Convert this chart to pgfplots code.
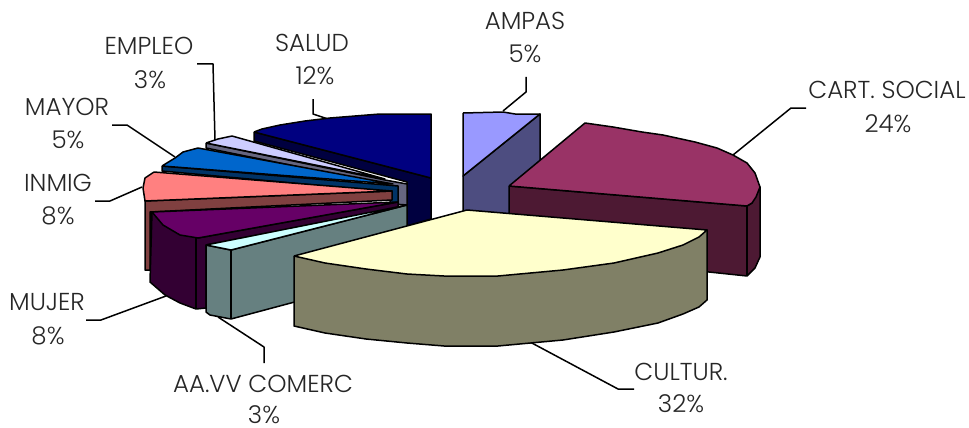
\documentclass[border=0pt]{standalone}
\usepackage{fontspec}
\setmainfont{Poppins}[UprightFont=* Light]
\usepackage{pgfplots}
\pgfplotsset{compat=1.18}
\definecolor{salud}{HTML}{000080}\definecolor{saludd}{HTML}{000040}
\definecolor{empleo}{HTML}{CCCCFF}\definecolor{empleod}{HTML}{666680}
\definecolor{mayor}{HTML}{0066CC}\definecolor{mayord}{HTML}{003366}
\definecolor{inmig}{HTML}{FF8080}\definecolor{inmigd}{HTML}{804040}
\definecolor{mujer}{HTML}{660066}\definecolor{mujerd}{HTML}{330033}
\definecolor{aavv}{HTML}{CCFFFF}\definecolor{aavvd}{HTML}{668080}
\definecolor{ampas}{HTML}{9999FF}\definecolor{ampasd}{HTML}{4D4D80}
\definecolor{cart}{HTML}{993366}\definecolor{cartd}{HTML}{4D1933}
\definecolor{cultur}{HTML}{FFFFCC}\definecolor{culturd}{HTML}{808066}
\begin{document}
\begin{tikzpicture}
\begin{axis}[
    name=ax,
    scale only axis, width=969pt, height=428pt,
    xmin=0, xmax=969, ymin=0, ymax=428, y dir=reverse,
    hide axis, clip=false,
    every axis plot/.append style={line width=1.5pt, line join=round},
    nodes={font=\fontsize{24.5}{28}\selectfont, text=black!85, inner sep=0pt},
]
% leader lines
\addplot[draw=black] coordinates {(526,77) (526,92) (503,111)};
\addplot[draw=black] coordinates {(806,108) (791,108) (733,155)};
\addplot[draw=black] coordinates {(197,64) (213,64) (215,140)};
\addplot[draw=black] coordinates {(313,99) (313,114) (328,119)};
\addplot[draw=black] coordinates {(112,125) (127,125) (175,157)};
\addplot[draw=black] coordinates {(95,201) (110,201) (142,187)};
\addplot[draw=black] coordinates {(86,320) (101,320) (166,296)};
\addplot[draw=black] coordinates {(264,363) (264,347) (218,317)};
\addplot[draw=black] coordinates {(530,342) (618,389) (634,389)};
% SALUD
\addplot[draw=black, fill=saludd] coordinates {(254,132) (431,178) (431,219) (407,226) (407,182) (254,141) (254,132)};
\addplot[draw=black, fill=salud] coordinates {(254,132) (262,129) (280,125) (305,121) (330,118) (355,116) (380,114) (431,114) (431,178) (254,132)};
% EMPLEO
\addplot[draw=black, fill=empleod] coordinates {(206,143) (385,180) (407,184) (407,205) (393,204) (393,186) (206,148) (206,143)};
\addplot[draw=black, fill=empleo] coordinates {(206,143) (218,139) (232,136) (385,179) (206,143)};
% MAYOR
\addplot[draw=black, fill=mayord] coordinates {(162,166) (398,186) (398,203) (390,203) (390,192) (162,171) (162,166)};
\addplot[draw=black, fill=mayor] coordinates {(162,166) (175,158) (183,152) (198,148) (393,184) (162,166)};
% INMIG
\addplot[draw=black, fill=inmigd] coordinates {(145,201) (392,191) (392,200) (150,212) (150,270) (145,270) (145,201)};
\addplot[draw=black, fill=inmig] coordinates {(154,172) (145,178) (143,188) (145,201) (392,191) (154,172)};
% MUJER
\addplot[draw=black, fill=mujerd] coordinates {(152,212) (150,282) (165,295) (180,303) (196,309) (206,308) (206,245) (398,208) (398,202) (198,238) (152,212)};
\addplot[draw=black, fill=mujer] coordinates {(152,212) (163,225) (180,235) (198,238) (398,202) (152,212)};
\addplot[draw=black] coordinates {(196,238) (196,309)};
% AA.VV COMERC
\addplot[draw=black, fill=aavvd] coordinates {(206,245) (206,312) (210,315) (231,319) (407,272) (407,205) (231,250) (206,245)};
\addplot[draw=black, fill=aavv] coordinates {(206,245) (231,250) (407,205) (206,245)};
\addplot[draw=black] coordinates {(231,250) (231,319)};
% AMPAS
\addplot[draw=black, fill=ampasd] coordinates {(463,176) (540,114) (540,190) (509,215) (463,215) (463,176)};
\addplot[draw=black, fill=ampas] coordinates {(463,113) (503,112) (515,114) (540,114) (463,176) (463,113)};
% CART. SOCIAL
\addplot[draw=black, fill=cartd] coordinates {(509,186) (509,214) (690,270) (747,276) (755,268) (760,257) (760,187) (752,203) (747,206) (509,186)};
\addplot[draw=black] coordinates {(747,206) (747,276)};
\addplot[draw=black, fill=cart] coordinates {(509,186) (585,123) (613,127) (642,132) (663,135) (695,142) (717,148) (733,155) (747,163) (755,173) (760,187) (756,197) (752,203) (747,206) (509,186)};
% CULTUR.
\addplot[draw=black, fill=culturd] coordinates {(294,256) (294,326) (325,333) (366,339) (407,343) (444,346) (498,346) (563,340) (614,332) (658,323) (683,314) (699,307) (707,300) (707,230) (294,256)};
\addplot[draw=black, fill=cultur] coordinates {(294,256) (467,210) (707,230) (699,237) (683,245) (658,253) (614,263) (563,270) (498,276) (444,276) (407,274) (366,269) (325,263) (294,256)};
% labels
\node at (axis cs:525,21) {AMPAS};  \node at (axis cs:525,54) {5\%};
\node at (axis cs:887,90) {CART. SOCIAL};  \node at (axis cs:888,124) {24\%};
\node at (axis cs:681,372) {CULTUR.};  \node at (axis cs:681,404) {32\%};
\node at (axis cs:263,384) {AA.VV COMERC};  \node at (axis cs:264,415) {3\%};
\node at (axis cs:47,302) {MUJER};  \node at (axis cs:48,336) {8\%};
\node at (axis cs:58,183) {INMIG};  \node at (axis cs:58,216) {8\%};
\node at (axis cs:67,107) {MAYOR};  \node at (axis cs:68,140) {5\%};
\node at (axis cs:149,46) {EMPLEO};  \node at (axis cs:150,80) {3\%};
\node at (axis cs:312,43) {SALUD};  \node at (axis cs:315,76) {12\%};
\end{axis}
\pgfresetboundingbox
\path (ax.south west) (ax.north east);
\end{tikzpicture}
\end{document}
